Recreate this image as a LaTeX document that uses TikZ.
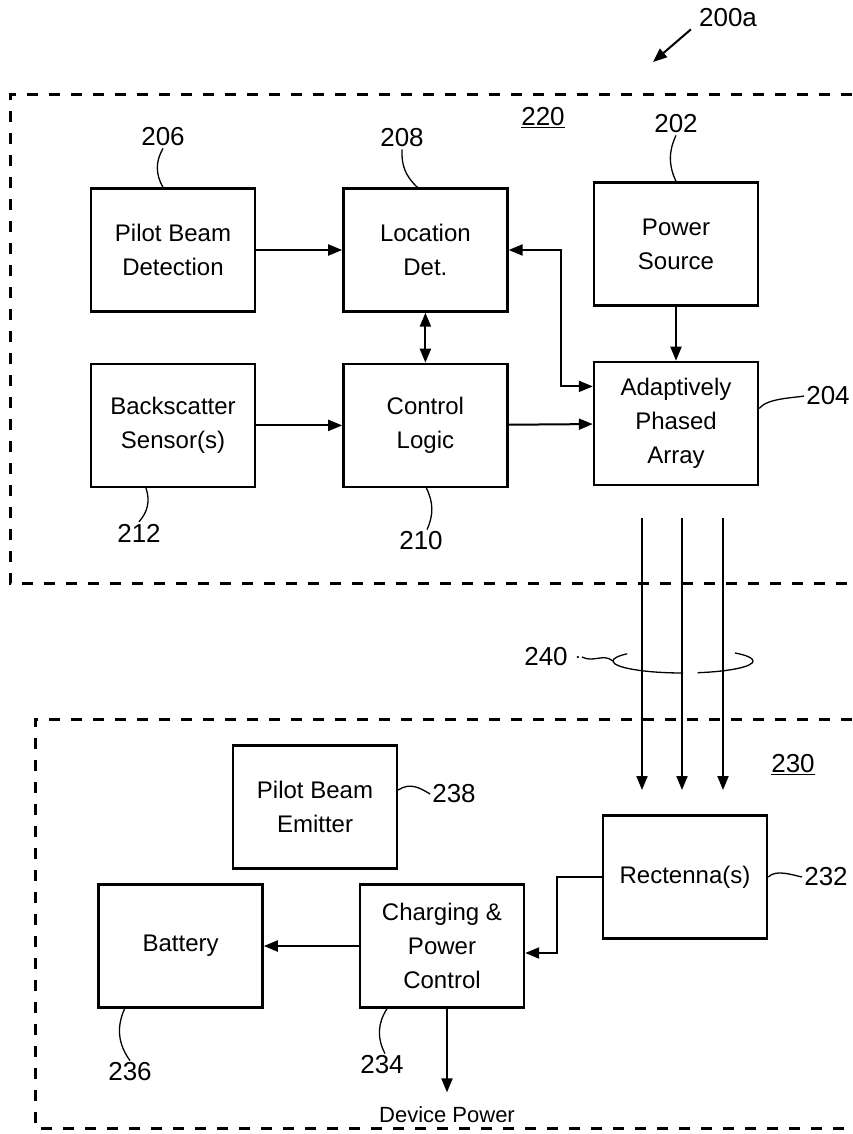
\documentclass[tikz,border=0pt]{standalone}
\usepackage{fontspec}
\setmainfont{Liberation Sans}
\usetikzlibrary{positioning,arrows.meta}

\begin{document}
\begin{tikzpicture}[x=1pt,y=-1pt,
    bloque/.style={draw, line width=2.4pt, minimum width=164pt, minimum height=123pt,
                   align=center, font=\fontsize{24}{34}\selectfont},
    flecha/.style={-{Triangle[length=14pt,width=11pt]}, line width=2pt},
    dflecha/.style={{Triangle[length=14pt,width=11pt]}-{Triangle[length=14pt,width=11pt]}, line width=2pt},
    guia/.style={line width=1.3pt},
    marco/.style={line width=3pt, dash pattern=on 11pt off 11pt},
    etiq/.style={font=\fontsize{26}{30}\selectfont, inner sep=2pt}]
  \useasboundingbox (0,0) rectangle (852,1134);

  % marcos
  \draw[marco] (852,95) -- (10,95) -- (10,583) -- (852,583);
  \draw[marco] (852,719) -- (35,719) -- (35,1128) -- (852,1128);

  % transmisor
  \node[bloque] (pbd) at (173,250) {Pilot Beam\\Detection};
  \node[bloque, right=86pt of pbd] (loc) {Location\\Det.};
  \node[bloque] (pwr) at (676,244) {Power\\Source};
  \node[bloque, below=50pt of pbd] (bss) {Backscatter\\Sensor(s)};
  \node[bloque, below=50pt of loc] (ctl) {Control\\Logic};
  \node[bloque, below=54pt of pwr] (arr) {Adaptively\\Phased\\Array};

  \draw[flecha] (pbd) -- (loc);
  \draw[dflecha] (loc) -- (ctl);
  \draw[dflecha] (loc.east) -- ++(52,0) |- ([yshift=37pt]arr.west);
  \draw[flecha] (pwr) -- (arr);
  \draw[flecha] (bss) -- (ctl);
  \draw[flecha] (ctl) -- (arr);

  % receptor
  \node[bloque] (pbe) at (315,807) {Pilot Beam\\Emitter};
  \node[bloque] (rec) at (685,877) {Rectenna(s)};
  \node[bloque] (chg) at (442,946) {Charging \&\\Power\\Control};
  \node[bloque, left=95pt of chg] (bat) {Battery};
  \node[font=\fontsize{22}{26}\selectfont] (dp) at (447,1115) {Device Power};

  \draw[flecha] (rec.west) -- ++(-45,0) |- ([yshift=-7pt]chg.east);
  \draw[flecha] (chg) -- (bat);
  \draw[flecha, shorten >=11pt] (chg.south -| dp) -- (dp.north);

  % haz
  \draw[guia] (613,661) arc[start angle=180, end angle=270, x radius=70pt, y radius=12pt];
  \draw[guia] (697.6,672.7) arc[start angle=282, end angle=360, x radius=70pt, y radius=12pt];
  \draw[guia] (613,661) arc[start angle=180, end angle=143, x radius=70pt, y radius=12pt];
  \draw[guia] (753,661) arc[start angle=0, end angle=42, x radius=70pt, y radius=12pt];
  \foreach \x in {642,682,723}
    \draw[flecha] (\x,518) -- (\x,790);

  % referencias
  \node[etiq] (n200a) at (728,18) {200a};
  \coordinate (c200a) at (653,62);
  \draw[flecha] ([xshift=-6pt]n200a.south west) -- (c200a);
  \node[etiq] (n220) at (543,118) {\underline{220}};
  \node[etiq] (n230) at (793,765) {\underline{230}};
  \node[etiq] (n206) at (163,137) {206};
  \node[etiq] (n208) at (402,138) {208};
  \node[etiq] (n202) at (676,124) {202};
  \node[etiq] (n204) at (828,396) {204};
  \node[etiq] (n212) at (139,533) {212};
  \node[etiq] (n210) at (421,541) {210};
  \node[etiq] (n240) at (546,657) {240};
  \node[etiq] (n238) at (454,794) {238};
  \node[etiq] (n232) at (826,877) {232};
  \node[etiq] (n236) at (130,1072) {236};
  \node[etiq] (n234) at (382,1065) {234};

  \draw[guia] (n206.south) to[bend right=30] ([xshift=-10pt]pbd.north);
  \draw[guia] (n208.south) to[bend right=25] ([xshift=-8pt]loc.north);
  \draw[guia] (n202.south) to[bend right=25] (pwr.north);
  \draw[guia] ([xshift=-27pt]bss.south) to[bend left=30] (n212.north);
  \draw[guia] ([xshift=1pt]ctl.south) to[bend left=25] ([xshift=6pt]n210.north);
  \draw[guia] ([xshift=-56pt]bat.south) to[bend right=30] (n236.north);
  \draw[guia] ([xshift=-55pt]chg.south) to[bend right=30] ([xshift=3pt]n234.north);
  \draw[guia] ([yshift=15pt]arr.east) .. controls +(8,-10) and +(-12,2) .. (n204.west);
  \draw[guia] ([yshift=17pt]pbe.east) .. controls +(12,-8) and +(-10,-6) .. (n238.west);
  \draw[guia] (rec.east) .. controls +(8,-8) and +(-10,-2) .. (n232.west);
  \fill ([xshift=8pt]n240.east) circle (1.3pt);
  \draw[guia] ([xshift=12pt]n240.east) .. controls +(12,6) and +(-10,-8) .. (613,661);
\end{tikzpicture}
\end{document}
